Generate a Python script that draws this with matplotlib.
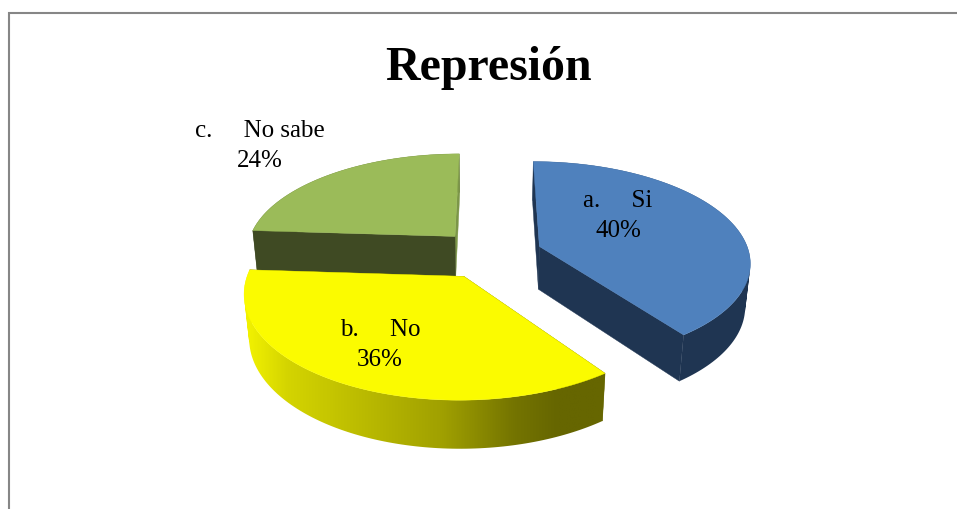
import numpy as np
import matplotlib
matplotlib.use("Agg")
import matplotlib.pyplot as plt
from matplotlib.patches import Polygon, PathPatch
from matplotlib.path import Path
from matplotlib.colors import LinearSegmentedColormap

# --- data ---
title = "Represión"
categories = ["a.     Si", "b.     No", "c.     No sabe"]
percent = [40, 36, 24]

# --- style ---
top_colors = ["#4F81BD", "#FBFB00", "#9BBB59"]
radial_colors = [("#1F3552", "#1F3552"), ("#666600", "#666600"), ("#7C9648", "#3F4A23")]
radial_over_side = [True, False, True]
side_colors = ["#1F3552", None, "#3F4A23"]
yellow_side = LinearSegmentedColormap.from_list(
    "y", [(0.0, "#F4F400"), (0.12, "#D4D400"), (0.55, "#A0A000"), (0.75, "#747400"), (0.87, "#666600"), (1.0, "#666600")])
label_xy = [(618, 216), (380, 345), (260, 146)]
draw_order = [2, 0, 1]

# --- projection of the tilted pie (pixel space of the figure) ---
CX, CY = 490.0, 255.0
A, B = 210.0, 99.0
K, M = 0.143, 0.02
DEPTH = 44.0
EXPLODE = 0.25


def project(X, Y, z=0.0):
    X, Y = np.asarray(X, float), np.asarray(Y, float)
    w = 1 + K * Y + M * z
    return np.column_stack([CX + A * X / w, CY + (-B * Y + DEPTH * z) / w])


def side_path(up, lo):
    """Union of the side quads: all wound the same way so that they fill without gaps."""
    paths = []
    for j in range(len(up) - 1):
        q = np.array([up[j], up[j + 1], lo[j + 1], lo[j]])
        area = np.sum(q[:, 0] * np.roll(q[:, 1], -1) - np.roll(q[:, 0], -1) * q[:, 1])
        if area < 0:
            q = q[::-1]
        paths.append(Path(np.vstack([q, q[:1]]), closed=True))
    return Path.make_compound_path(*paths)


fig = plt.figure(figsize=(9.57, 5.10), dpi=100, facecolor="white")
ax = fig.add_axes([0, 0, 1, 1])
ax.axis("off")

# frame (top and left edges only are in view)
ax.plot([8.5, 8.5, 957], [510, 13.5, 13.5], color="#868686", lw=1.5, solid_capstyle="butt", solid_joinstyle="miter")

fractions = np.array(percent, float) / sum(percent)
edges = np.concatenate([[0], np.cumsum(fractions)]) * 2 * np.pi

for order, i in enumerate(draw_order):
    base = order * 3
    t0, t1 = edges[i], edges[i + 1]
    mid = (t0 + t1) / 2
    ox, oy = EXPLODE * np.sin(mid), EXPLODE * np.cos(mid)
    t = np.linspace(t0, t1, 121)
    X, Y = ox + np.sin(t), oy + np.cos(t)

    # radial faces
    z_radial = base + (2 if radial_over_side[i] else 1)
    z_side = base + (1 if radial_over_side[i] else 2)
    for ang, col in ((t1, radial_colors[i][0]), (t0, radial_colors[i][1])):
        rx = [ox, ox + np.sin(ang)]
        ry = [oy, oy + np.cos(ang)]
        face = np.vstack([project(rx, ry, 0), project(rx[::-1], ry[::-1], 1)])
        ax.add_patch(Polygon(face, closed=True, fc=col, ec=col, lw=0.3, zorder=z_radial))

    # outer side
    up = project(X, Y, 0)
    lo = project(X, Y, 1)
    path = side_path(up, lo)
    if side_colors[i] is not None:
        ax.add_patch(PathPatch(path, fc=side_colors[i], ec="none", zorder=z_side))
    else:
        clip = PathPatch(path, transform=ax.transData, fc="none", ec="none")
        ax.add_patch(clip)
        pts = np.vstack([up, lo])
        x0, x1 = pts[:, 0].min(), pts[:, 0].max()
        y0, y1 = pts[:, 1].min(), pts[:, 1].max()
        grad = np.linspace(0, 1, 512).reshape(1, -1)
        im = ax.imshow(grad, cmap=yellow_side, extent=(x0, x1, y1, y0), aspect="auto",
                       interpolation="bilinear", zorder=z_side)
        im.set_clip_path(clip)

    # top face
    top = np.vstack([project([ox], [oy], 0), up])
    ax.add_patch(Polygon(top, closed=True, fc=top_colors[i], ec=top_colors[i], lw=0.3, zorder=base + 3))

ax.set_xlim(0, 957)
ax.set_ylim(510, 0)

font = "Liberation Serif"
for name, p, (x, y) in zip(categories, percent, label_xy):
    ax.text(x, y, f"{name}\n{p}%", family=font, fontsize=18, color="black", ha="center", va="center",
            multialignment="center", linespacing=1.45, zorder=20)
ax.text(489, 80, title, family=font, fontsize=34.5, fontweight="bold", color="black",
        ha="center", va="baseline", zorder=20)

fig.savefig("out.png", dpi=100)
